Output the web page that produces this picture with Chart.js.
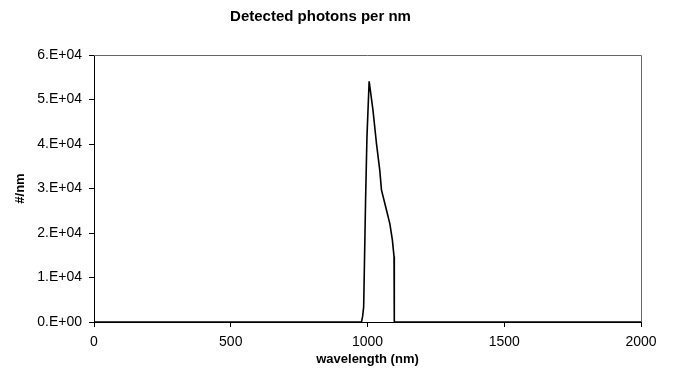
<!DOCTYPE html>
<html>
<head>
<meta charset="utf-8">
<script src="https://cdn.jsdelivr.net/npm/chart.js@4/dist/chart.umd.min.js"></script>
<style>
  html, body { margin: 0; padding: 0; background: #fff; }
  #wrap { width: 676px; height: 379px; }
</style>
</head>
<body>
<div id="wrap"><canvas id="photons-chart" width="676" height="379"></canvas></div>
<script>
// values
var wavelengths = [0, 500, 900, 960, 978, 982, 986, 993, 998, 1006, 1020, 1033, 1045, 1051, 1070, 1082, 1091, 1097, 1098, 1500, 2000]
var photonsPerNm = [0, 0, 0, 0, 0, 1200, 3400, 27400, 41600, 54100, 47600, 40000, 34000, 29700, 25000, 22000, 18400, 14700, 0, 0, 0]
var xTicks = [0, 500, 1000, 1500, 2000]
var yTickLabels = ["0.E+00", "1.E+04", "2.E+04", "3.E+04", "4.E+04", "5.E+04", "6.E+04"]

var points = wavelengths.map((w, i) => ({ x: w, y: photonsPerNm[i] }))

// grey frame on top and right like the original
var frame = {
  id: "frame",
  afterDraw(chart) {
    var a = chart.chartArea
    var ctx = chart.ctx
    ctx.save()
    ctx.strokeStyle = "#666"
    ctx.lineWidth = 1
    ctx.beginPath()
    ctx.moveTo(a.left, a.top + 0.5)
    ctx.lineTo(a.right + 0.5, a.top + 0.5)
    ctx.lineTo(a.right + 0.5, a.bottom)
    ctx.stroke()
    ctx.restore()
  }
}

Chart.defaults.font.family = "'Liberation Sans', Arial, sans-serif"
Chart.defaults.color = "#000"

new Chart(document.getElementById("photons-chart"), {
  type: "line",
  data: {
    datasets: [{
      data: points,
      borderColor: "#000",
      borderWidth: 1.6,
      pointRadius: 0,
      tension: 0,
      fill: false
    }]
  },
  options: {
    responsive: false,
    animation: false,
    devicePixelRatio: 1,
    layout: { padding: { left: 0, right: 35, top: 0, bottom: 0 } },
    plugins: {
      legend: { display: false },
      tooltip: { enabled: false },
      title: {
        display: true,
        text: "Detected photons per nm",
        font: { size: 15, weight: "bold" },
        padding: { top: 8, bottom: 29 }
      }
    },
    scales: {
      x: {
        type: "linear",
        min: 0,
        max: 2000,
        afterBuildTicks: scale => { scale.ticks = xTicks.map(v => ({ value: v })) },
        afterFit: scale => { scale.height = 57 },
        ticks: { font: { size: 14 }, padding: 7, callback: v => String(v) },
        grid: { drawOnChartArea: false, tickLength: 5, color: "#000" },
        border: { color: "#000", width: 1 },
        title: {
          display: true,
          text: "wavelength (nm)",
          font: { size: 13, weight: "bold" },
          padding: { top: 0, bottom: 12 }
        }
      },
      y: {
        min: 0,
        max: 60000,
        ticks: {
          stepSize: 10000,
          font: { size: 14 },
          padding: 7,
          callback: (v, i) => yTickLabels[i]
        },
        afterFit: scale => { scale.width = 94 },
        grid: { drawOnChartArea: false, tickLength: 5, color: "#000" },
        border: { color: "#000", width: 1 },
        title: {
          display: true,
          text: "#/nm",
          font: { size: 13, weight: "bold" },
          padding: 13
        }
      }
    }
  },
  plugins: [frame]
})
</script>
</body>
</html>
